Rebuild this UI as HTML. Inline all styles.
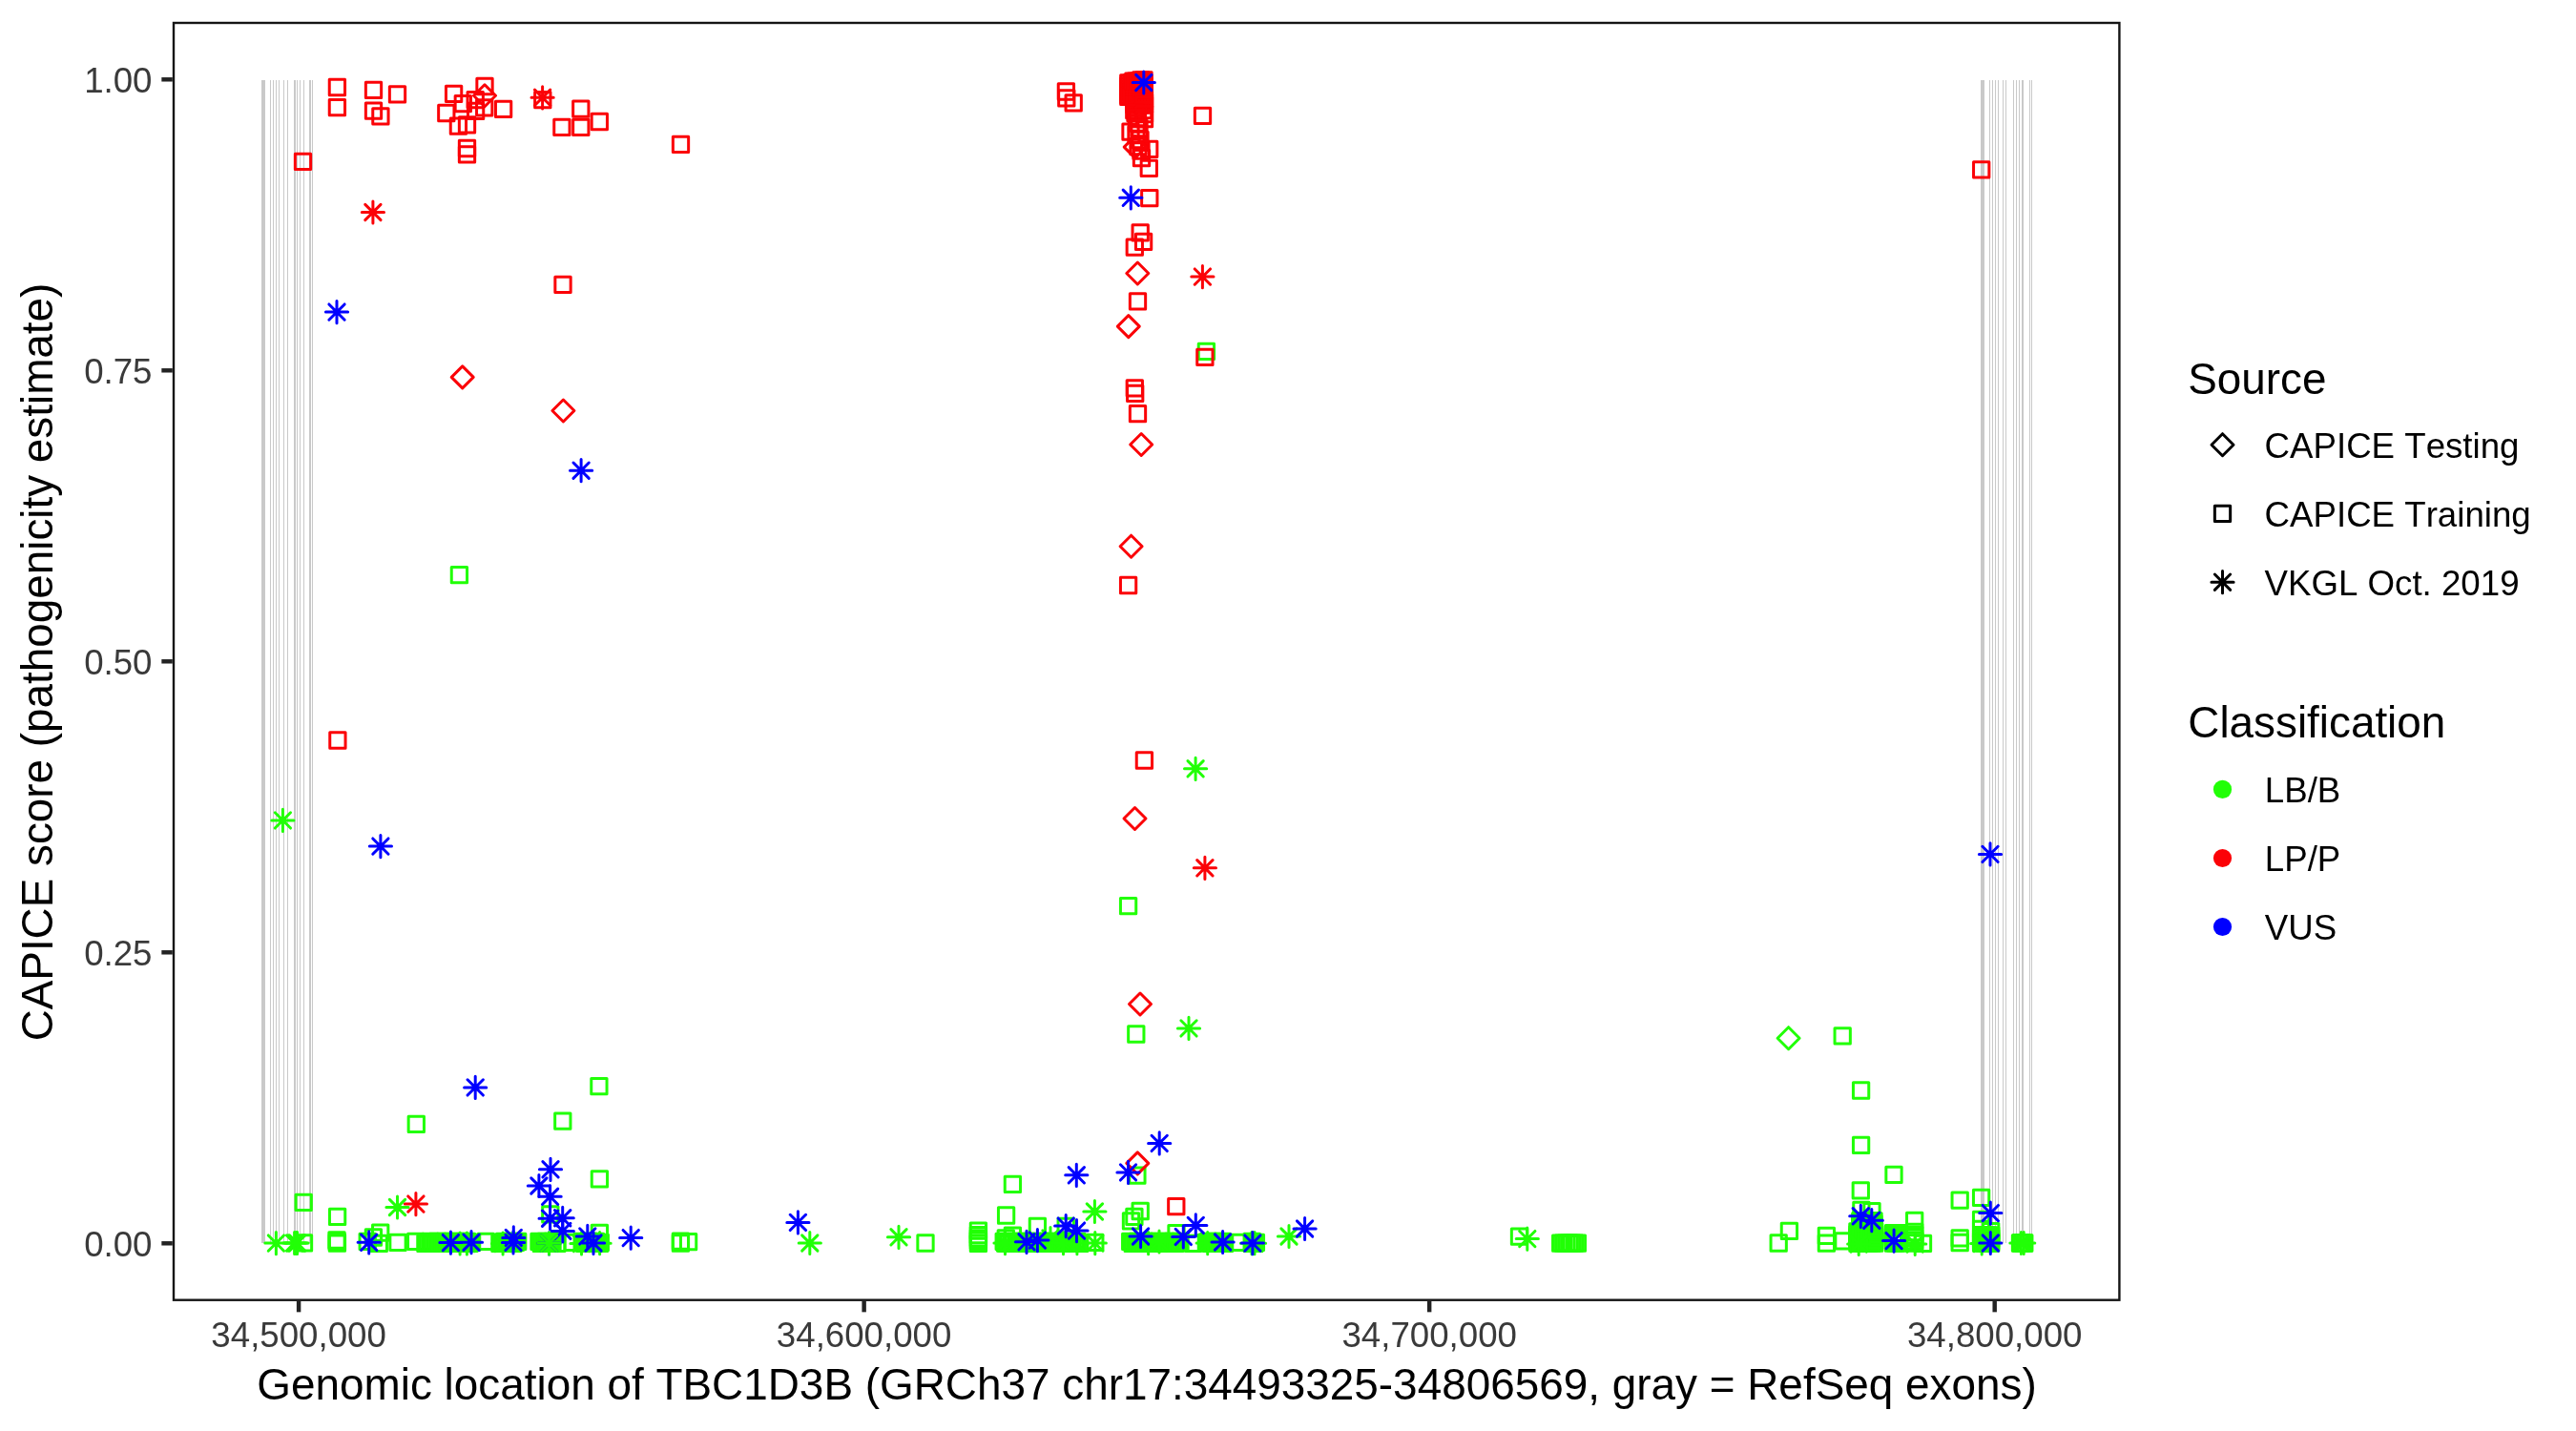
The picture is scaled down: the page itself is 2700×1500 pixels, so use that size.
<!DOCTYPE html>
<html><head><meta charset="utf-8"><title>plot</title>
<style>
html,body{margin:0;padding:0;background:#fff}
svg{display:block;will-change:transform}
text{font-family:"Liberation Sans",sans-serif;font-kerning:none;font-variant-ligatures:none;font-feature-settings:"kern" 0,"liga" 0}
.t{font-size:36.67px;fill:#3A3A3A}
.T{font-size:45.83px;fill:#000}
.l{font-size:36.67px;fill:#000}
.p{fill:none;stroke-width:3;stroke-linejoin:round;stroke-linecap:round}
</style></head><body>
<svg width="2700" height="1500" viewBox="0 0 2700 1500">
<defs>
<rect id="s" x="-8.15" y="-8.15" width="16.3" height="16.3"/>
<path id="d" d="M0-11.5L11.5 0 0 11.5-11.5 0Z"/>
<path id="a" d="M-11.6 0H11.6M0-11.6V11.6M-8.15-8.15L8.15 8.15M-8.15 8.15L8.15-8.15"/>
</defs>
<rect width="2700" height="1500" fill="#fff"/>

<g fill="#C9C9C9" shape-rendering="crispEdges">
<rect x="274" y="84" width="4" height="1219"/>
<rect x="283" y="84" width="1" height="1219"/>
<rect x="286" y="84" width="1" height="1219"/>
<rect x="289" y="84" width="1" height="1219"/>
<rect x="292" y="84" width="1" height="1219"/>
<rect x="297" y="84" width="1" height="1219"/>
<rect x="301" y="84" width="1" height="1219"/>
<rect x="308" y="84" width="2" height="1219"/>
<rect x="311" y="84" width="1" height="1219"/>
<rect x="314" y="84" width="1" height="1219"/>
<rect x="318" y="84" width="1" height="1219"/>
<rect x="324" y="84" width="2" height="1219"/>
<rect x="327" y="84" width="1" height="1219"/>
<rect x="2076" y="84" width="4" height="1219"/>
<rect x="2085" y="84" width="1" height="1219"/>
<rect x="2088" y="84" width="1" height="1219"/>
<rect x="2091" y="84" width="1" height="1219"/>
<rect x="2094" y="84" width="1" height="1219"/>
<rect x="2099" y="84" width="1" height="1219"/>
<rect x="2102" y="84" width="1" height="1219"/>
<rect x="2110" y="84" width="1" height="1219"/>
<rect x="2113" y="84" width="1" height="1219"/>
<rect x="2116" y="84" width="1" height="1219"/>
<rect x="2119" y="84" width="2" height="1219"/>
<rect x="2127" y="84" width="1" height="1219"/>
<rect x="2129" y="84" width="1" height="1219"/>
</g>
<g class="p">
<use href="#s" x="1264.4" y="368.3" stroke="#21FF06"/>
<use href="#s" x="481.4" y="602.6" stroke="#21FF06"/>
<use href="#s" x="627.9" y="1138.6" stroke="#21FF06"/>
<use href="#s" x="436.3" y="1178.4" stroke="#21FF06"/>
<use href="#s" x="589.8" y="1175.2" stroke="#21FF06"/>
<use href="#s" x="628.4" y="1235.8" stroke="#21FF06"/>
<use href="#s" x="318.2" y="1260.3" stroke="#21FF06"/>
<use href="#s" x="353.6" y="1275.4" stroke="#21FF06"/>
<use href="#s" x="576.8" y="1272.8" stroke="#21FF06"/>
<use href="#s" x="398.7" y="1292.2" stroke="#21FF06"/>
<use href="#s" x="391.4" y="1297.0" stroke="#21FF06"/>
<use href="#s" x="628.4" y="1292.5" stroke="#21FF06"/>
<use href="#s" x="318.5" y="1302.8" stroke="#21FF06"/>
<use href="#s" x="353.0" y="1300.0" stroke="#21FF06"/>
<use href="#s" x="353.4" y="1301.8" stroke="#21FF06"/>
<use href="#s" x="353.4" y="1303.2" stroke="#21FF06"/>
<use href="#s" x="385.2" y="1301.3" stroke="#21FF06"/>
<use href="#s" x="397.3" y="1303.3" stroke="#21FF06"/>
<use href="#s" x="417.0" y="1302.3" stroke="#21FF06"/>
<use href="#s" x="435.7" y="1301.3" stroke="#21FF06"/>
<use href="#s" x="445.9" y="1303.3" stroke="#21FF06"/>
<use href="#s" x="448.5" y="1302.3" stroke="#21FF06"/>
<use href="#s" x="451.0" y="1301.3" stroke="#21FF06"/>
<use href="#s" x="453.6" y="1303.3" stroke="#21FF06"/>
<use href="#s" x="456.2" y="1302.3" stroke="#21FF06"/>
<use href="#s" x="458.7" y="1301.3" stroke="#21FF06"/>
<use href="#s" x="461.3" y="1303.3" stroke="#21FF06"/>
<use href="#s" x="463.8" y="1302.3" stroke="#21FF06"/>
<use href="#s" x="466.4" y="1301.3" stroke="#21FF06"/>
<use href="#s" x="469.0" y="1303.3" stroke="#21FF06"/>
<use href="#s" x="471.5" y="1302.3" stroke="#21FF06"/>
<use href="#s" x="474.1" y="1301.3" stroke="#21FF06"/>
<use href="#s" x="476.7" y="1303.3" stroke="#21FF06"/>
<use href="#s" x="479.2" y="1302.3" stroke="#21FF06"/>
<use href="#s" x="481.8" y="1301.3" stroke="#21FF06"/>
<use href="#s" x="484.3" y="1303.3" stroke="#21FF06"/>
<use href="#s" x="486.9" y="1302.3" stroke="#21FF06"/>
<use href="#s" x="489.5" y="1301.3" stroke="#21FF06"/>
<use href="#s" x="492.0" y="1303.3" stroke="#21FF06"/>
<use href="#s" x="494.6" y="1302.3" stroke="#21FF06"/>
<use href="#s" x="509.2" y="1301.3" stroke="#21FF06"/>
<use href="#s" x="523.9" y="1303.3" stroke="#21FF06"/>
<use href="#s" x="526.2" y="1302.3" stroke="#21FF06"/>
<use href="#s" x="528.6" y="1301.3" stroke="#21FF06"/>
<use href="#s" x="531.0" y="1303.3" stroke="#21FF06"/>
<use href="#s" x="533.3" y="1302.3" stroke="#21FF06"/>
<use href="#s" x="535.6" y="1301.3" stroke="#21FF06"/>
<use href="#s" x="538.0" y="1303.3" stroke="#21FF06"/>
<use href="#s" x="540.4" y="1302.3" stroke="#21FF06"/>
<use href="#s" x="542.7" y="1301.3" stroke="#21FF06"/>
<use href="#s" x="565.0" y="1301.3" stroke="#21FF06"/>
<use href="#s" x="567.3" y="1303.3" stroke="#21FF06"/>
<use href="#s" x="569.7" y="1302.3" stroke="#21FF06"/>
<use href="#s" x="572.0" y="1301.3" stroke="#21FF06"/>
<use href="#s" x="574.3" y="1303.3" stroke="#21FF06"/>
<use href="#s" x="576.7" y="1302.3" stroke="#21FF06"/>
<use href="#s" x="579.0" y="1301.3" stroke="#21FF06"/>
<use href="#s" x="583.9" y="1303.3" stroke="#21FF06"/>
<use href="#s" x="600.1" y="1302.3" stroke="#21FF06"/>
<use href="#s" x="610.2" y="1301.3" stroke="#21FF06"/>
<use href="#s" x="612.6" y="1303.3" stroke="#21FF06"/>
<use href="#s" x="615.0" y="1302.3" stroke="#21FF06"/>
<use href="#s" x="617.4" y="1301.3" stroke="#21FF06"/>
<use href="#s" x="619.8" y="1303.3" stroke="#21FF06"/>
<use href="#s" x="622.1" y="1302.3" stroke="#21FF06"/>
<use href="#s" x="624.5" y="1301.3" stroke="#21FF06"/>
<use href="#s" x="626.9" y="1303.3" stroke="#21FF06"/>
<use href="#s" x="629.3" y="1302.3" stroke="#21FF06"/>
<use href="#s" x="713.4" y="1301.2" stroke="#21FF06"/>
<use href="#s" x="713.4" y="1303.0" stroke="#21FF06"/>
<use href="#s" x="721.6" y="1301.6" stroke="#21FF06"/>
<use href="#s" x="970.0" y="1303.0" stroke="#21FF06"/>
<use href="#s" x="1025.4" y="1290.1" stroke="#21FF06"/>
<use href="#s" x="1025.4" y="1294.7" stroke="#21FF06"/>
<use href="#s" x="1025.4" y="1297.9" stroke="#21FF06"/>
<use href="#s" x="1025.4" y="1300.4" stroke="#21FF06"/>
<use href="#s" x="1025.4" y="1303.4" stroke="#21FF06"/>
<use href="#s" x="1061.4" y="1241.4" stroke="#21FF06"/>
<use href="#s" x="1054.6" y="1274.0" stroke="#21FF06"/>
<use href="#s" x="1087.4" y="1285.5" stroke="#21FF06"/>
<use href="#s" x="1117.2" y="1285.5" stroke="#21FF06"/>
<use href="#s" x="1195.2" y="1269.5" stroke="#21FF06"/>
<use href="#s" x="1188.9" y="1275.4" stroke="#21FF06"/>
<use href="#s" x="1185.5" y="1279.8" stroke="#21FF06"/>
<use href="#s" x="1191.9" y="1232.2" stroke="#21FF06"/>
<use href="#s" x="1061.4" y="1295.1" stroke="#21FF06"/>
<use href="#s" x="1054.3" y="1298.0" stroke="#21FF06"/>
<use href="#s" x="1052.2" y="1301.3" stroke="#21FF06"/>
<use href="#s" x="1054.8" y="1303.3" stroke="#21FF06"/>
<use href="#s" x="1057.3" y="1302.3" stroke="#21FF06"/>
<use href="#s" x="1059.9" y="1301.3" stroke="#21FF06"/>
<use href="#s" x="1062.4" y="1303.3" stroke="#21FF06"/>
<use href="#s" x="1065.0" y="1302.3" stroke="#21FF06"/>
<use href="#s" x="1067.6" y="1301.3" stroke="#21FF06"/>
<use href="#s" x="1070.1" y="1303.3" stroke="#21FF06"/>
<use href="#s" x="1072.7" y="1302.3" stroke="#21FF06"/>
<use href="#s" x="1075.3" y="1301.3" stroke="#21FF06"/>
<use href="#s" x="1077.8" y="1303.3" stroke="#21FF06"/>
<use href="#s" x="1080.4" y="1302.3" stroke="#21FF06"/>
<use href="#s" x="1082.9" y="1301.3" stroke="#21FF06"/>
<use href="#s" x="1085.5" y="1303.3" stroke="#21FF06"/>
<use href="#s" x="1088.1" y="1302.3" stroke="#21FF06"/>
<use href="#s" x="1090.6" y="1301.3" stroke="#21FF06"/>
<use href="#s" x="1093.2" y="1303.3" stroke="#21FF06"/>
<use href="#s" x="1095.7" y="1302.3" stroke="#21FF06"/>
<use href="#s" x="1098.3" y="1301.3" stroke="#21FF06"/>
<use href="#s" x="1100.9" y="1303.3" stroke="#21FF06"/>
<use href="#s" x="1103.4" y="1302.3" stroke="#21FF06"/>
<use href="#s" x="1106.0" y="1301.3" stroke="#21FF06"/>
<use href="#s" x="1108.5" y="1303.3" stroke="#21FF06"/>
<use href="#s" x="1111.1" y="1302.3" stroke="#21FF06"/>
<use href="#s" x="1113.7" y="1301.3" stroke="#21FF06"/>
<use href="#s" x="1116.2" y="1303.3" stroke="#21FF06"/>
<use href="#s" x="1118.8" y="1302.3" stroke="#21FF06"/>
<use href="#s" x="1121.4" y="1301.3" stroke="#21FF06"/>
<use href="#s" x="1123.9" y="1303.3" stroke="#21FF06"/>
<use href="#s" x="1126.5" y="1302.3" stroke="#21FF06"/>
<use href="#s" x="1129.0" y="1301.3" stroke="#21FF06"/>
<use href="#s" x="1131.6" y="1303.3" stroke="#21FF06"/>
<use href="#s" x="1147.8" y="1302.3" stroke="#21FF06"/>
<use href="#s" x="1184.7" y="1301.3" stroke="#21FF06"/>
<use href="#s" x="1187.2" y="1303.3" stroke="#21FF06"/>
<use href="#s" x="1189.7" y="1302.3" stroke="#21FF06"/>
<use href="#s" x="1192.2" y="1301.3" stroke="#21FF06"/>
<use href="#s" x="1194.7" y="1303.3" stroke="#21FF06"/>
<use href="#s" x="1197.2" y="1302.3" stroke="#21FF06"/>
<use href="#s" x="1199.6" y="1301.3" stroke="#21FF06"/>
<use href="#s" x="1202.1" y="1303.3" stroke="#21FF06"/>
<use href="#s" x="1204.6" y="1302.3" stroke="#21FF06"/>
<use href="#s" x="1207.1" y="1301.3" stroke="#21FF06"/>
<use href="#s" x="1209.6" y="1303.3" stroke="#21FF06"/>
<use href="#s" x="1212.1" y="1302.3" stroke="#21FF06"/>
<use href="#s" x="1214.6" y="1301.3" stroke="#21FF06"/>
<use href="#s" x="1217.1" y="1303.3" stroke="#21FF06"/>
<use href="#s" x="1219.6" y="1302.3" stroke="#21FF06"/>
<use href="#s" x="1222.1" y="1301.3" stroke="#21FF06"/>
<use href="#s" x="1224.5" y="1303.3" stroke="#21FF06"/>
<use href="#s" x="1227.0" y="1302.3" stroke="#21FF06"/>
<use href="#s" x="1229.5" y="1301.3" stroke="#21FF06"/>
<use href="#s" x="1232.0" y="1303.3" stroke="#21FF06"/>
<use href="#s" x="1234.5" y="1302.3" stroke="#21FF06"/>
<use href="#s" x="1237.0" y="1301.3" stroke="#21FF06"/>
<use href="#s" x="1250.6" y="1303.3" stroke="#21FF06"/>
<use href="#s" x="1264.4" y="1302.3" stroke="#21FF06"/>
<use href="#s" x="1266.8" y="1301.3" stroke="#21FF06"/>
<use href="#s" x="1269.2" y="1303.3" stroke="#21FF06"/>
<use href="#s" x="1271.6" y="1302.3" stroke="#21FF06"/>
<use href="#s" x="1274.0" y="1301.3" stroke="#21FF06"/>
<use href="#s" x="1276.4" y="1303.3" stroke="#21FF06"/>
<use href="#s" x="1278.8" y="1302.3" stroke="#21FF06"/>
<use href="#s" x="1281.2" y="1301.3" stroke="#21FF06"/>
<use href="#s" x="1283.6" y="1303.3" stroke="#21FF06"/>
<use href="#s" x="1298.0" y="1302.3" stroke="#21FF06"/>
<use href="#s" x="1312.2" y="1301.3" stroke="#21FF06"/>
<use href="#s" x="1314.3" y="1303.3" stroke="#21FF06"/>
<use href="#s" x="1316.4" y="1302.3" stroke="#21FF06"/>
<use href="#s" x="1233.0" y="1292.6" stroke="#21FF06"/>
<use href="#s" x="1592.5" y="1296.2" stroke="#21FF06"/>
<use href="#s" x="1635.7" y="1303.1" stroke="#21FF06"/>
<use href="#s" x="1638.7" y="1303.1" stroke="#21FF06"/>
<use href="#s" x="1641.7" y="1303.1" stroke="#21FF06"/>
<use href="#s" x="1644.7" y="1303.1" stroke="#21FF06"/>
<use href="#s" x="1647.4" y="1303.1" stroke="#21FF06"/>
<use href="#s" x="1650.4" y="1303.1" stroke="#21FF06"/>
<use href="#s" x="1653.4" y="1303.1" stroke="#21FF06"/>
<use href="#s" x="1182.6" y="949.6" stroke="#21FF06"/>
<use href="#s" x="1190.8" y="1084.0" stroke="#21FF06"/>
<use href="#d" x="1874.6" y="1088.2" stroke="#21FF06"/>
<use href="#s" x="1931.2" y="1085.8" stroke="#21FF06"/>
<use href="#s" x="1950.6" y="1143.0" stroke="#21FF06"/>
<use href="#s" x="1950.6" y="1200.3" stroke="#21FF06"/>
<use href="#s" x="1985.0" y="1231.4" stroke="#21FF06"/>
<use href="#s" x="1950.3" y="1247.9" stroke="#21FF06"/>
<use href="#s" x="1950.9" y="1268.5" stroke="#21FF06"/>
<use href="#s" x="1962.0" y="1269.7" stroke="#21FF06"/>
<use href="#s" x="2006.7" y="1279.4" stroke="#21FF06"/>
<use href="#s" x="1875.4" y="1290.3" stroke="#21FF06"/>
<use href="#s" x="1864.2" y="1303.0" stroke="#21FF06"/>
<use href="#s" x="1914.4" y="1295.4" stroke="#21FF06"/>
<use href="#s" x="1914.4" y="1303.1" stroke="#21FF06"/>
<use href="#s" x="1932.0" y="1300.9" stroke="#21FF06"/>
<use href="#s" x="2015.5" y="1303.3" stroke="#21FF06"/>
<use href="#s" x="2054.2" y="1258.1" stroke="#21FF06"/>
<use href="#s" x="2054.2" y="1297.9" stroke="#21FF06"/>
<use href="#s" x="2054.2" y="1302.5" stroke="#21FF06"/>
<use href="#s" x="2076.6" y="1255.3" stroke="#21FF06"/>
<use href="#s" x="2076.6" y="1278.4" stroke="#21FF06"/>
<use href="#s" x="2076.6" y="1288.5" stroke="#21FF06"/>
<use href="#s" x="2086.7" y="1290.6" stroke="#21FF06"/>
<use href="#s" x="1946.9" y="1291.0" stroke="#21FF06"/>
<use href="#s" x="1946.9" y="1294.0" stroke="#21FF06"/>
<use href="#s" x="1946.9" y="1297.0" stroke="#21FF06"/>
<use href="#s" x="1946.9" y="1300.0" stroke="#21FF06"/>
<use href="#s" x="1946.9" y="1303.0" stroke="#21FF06"/>
<use href="#s" x="1950.0" y="1291.0" stroke="#21FF06"/>
<use href="#s" x="1950.0" y="1294.0" stroke="#21FF06"/>
<use href="#s" x="1950.0" y="1297.0" stroke="#21FF06"/>
<use href="#s" x="1950.0" y="1300.0" stroke="#21FF06"/>
<use href="#s" x="1950.0" y="1303.0" stroke="#21FF06"/>
<use href="#s" x="1953.0" y="1291.0" stroke="#21FF06"/>
<use href="#s" x="1953.0" y="1294.0" stroke="#21FF06"/>
<use href="#s" x="1953.0" y="1297.0" stroke="#21FF06"/>
<use href="#s" x="1953.0" y="1300.0" stroke="#21FF06"/>
<use href="#s" x="1953.0" y="1303.0" stroke="#21FF06"/>
<use href="#s" x="1956.0" y="1291.0" stroke="#21FF06"/>
<use href="#s" x="1956.0" y="1294.0" stroke="#21FF06"/>
<use href="#s" x="1956.0" y="1297.0" stroke="#21FF06"/>
<use href="#s" x="1956.0" y="1300.0" stroke="#21FF06"/>
<use href="#s" x="1956.0" y="1303.0" stroke="#21FF06"/>
<use href="#s" x="1959.0" y="1291.0" stroke="#21FF06"/>
<use href="#s" x="1959.0" y="1294.0" stroke="#21FF06"/>
<use href="#s" x="1959.0" y="1297.0" stroke="#21FF06"/>
<use href="#s" x="1959.0" y="1300.0" stroke="#21FF06"/>
<use href="#s" x="1959.0" y="1303.0" stroke="#21FF06"/>
<use href="#s" x="1962.0" y="1291.0" stroke="#21FF06"/>
<use href="#s" x="1962.0" y="1294.0" stroke="#21FF06"/>
<use href="#s" x="1962.0" y="1297.0" stroke="#21FF06"/>
<use href="#s" x="1962.0" y="1300.0" stroke="#21FF06"/>
<use href="#s" x="1962.0" y="1303.0" stroke="#21FF06"/>
<use href="#s" x="1964.7" y="1291.0" stroke="#21FF06"/>
<use href="#s" x="1964.7" y="1294.0" stroke="#21FF06"/>
<use href="#s" x="1964.7" y="1297.0" stroke="#21FF06"/>
<use href="#s" x="1964.7" y="1300.0" stroke="#21FF06"/>
<use href="#s" x="1964.7" y="1303.0" stroke="#21FF06"/>
<use href="#s" x="1949.8" y="1279.8" stroke="#21FF06"/>
<use href="#s" x="1949.8" y="1283.0" stroke="#21FF06"/>
<use href="#s" x="1949.8" y="1286.0" stroke="#21FF06"/>
<use href="#s" x="1949.8" y="1289.0" stroke="#21FF06"/>
<use href="#s" x="1953.0" y="1279.8" stroke="#21FF06"/>
<use href="#s" x="1953.0" y="1283.0" stroke="#21FF06"/>
<use href="#s" x="1953.0" y="1286.0" stroke="#21FF06"/>
<use href="#s" x="1953.0" y="1289.0" stroke="#21FF06"/>
<use href="#s" x="1956.0" y="1279.8" stroke="#21FF06"/>
<use href="#s" x="1956.0" y="1283.0" stroke="#21FF06"/>
<use href="#s" x="1956.0" y="1286.0" stroke="#21FF06"/>
<use href="#s" x="1956.0" y="1289.0" stroke="#21FF06"/>
<use href="#s" x="1959.0" y="1279.8" stroke="#21FF06"/>
<use href="#s" x="1959.0" y="1283.0" stroke="#21FF06"/>
<use href="#s" x="1959.0" y="1286.0" stroke="#21FF06"/>
<use href="#s" x="1959.0" y="1289.0" stroke="#21FF06"/>
<use href="#s" x="1962.0" y="1279.8" stroke="#21FF06"/>
<use href="#s" x="1962.0" y="1283.0" stroke="#21FF06"/>
<use href="#s" x="1962.0" y="1286.0" stroke="#21FF06"/>
<use href="#s" x="1962.0" y="1289.0" stroke="#21FF06"/>
<use href="#s" x="1964.0" y="1279.8" stroke="#21FF06"/>
<use href="#s" x="1964.0" y="1283.0" stroke="#21FF06"/>
<use href="#s" x="1964.0" y="1286.0" stroke="#21FF06"/>
<use href="#s" x="1964.0" y="1289.0" stroke="#21FF06"/>
<use href="#s" x="1984.5" y="1292.6" stroke="#21FF06"/>
<use href="#s" x="1984.5" y="1295.5" stroke="#21FF06"/>
<use href="#s" x="1984.5" y="1298.5" stroke="#21FF06"/>
<use href="#s" x="1984.5" y="1301.0" stroke="#21FF06"/>
<use href="#s" x="1984.5" y="1303.0" stroke="#21FF06"/>
<use href="#s" x="1987.0" y="1292.6" stroke="#21FF06"/>
<use href="#s" x="1987.0" y="1295.5" stroke="#21FF06"/>
<use href="#s" x="1987.0" y="1298.5" stroke="#21FF06"/>
<use href="#s" x="1987.0" y="1301.0" stroke="#21FF06"/>
<use href="#s" x="1987.0" y="1303.0" stroke="#21FF06"/>
<use href="#s" x="1989.8" y="1292.6" stroke="#21FF06"/>
<use href="#s" x="1989.8" y="1295.5" stroke="#21FF06"/>
<use href="#s" x="1989.8" y="1298.5" stroke="#21FF06"/>
<use href="#s" x="1989.8" y="1301.0" stroke="#21FF06"/>
<use href="#s" x="1989.8" y="1303.0" stroke="#21FF06"/>
<use href="#s" x="2006.7" y="1291.5" stroke="#21FF06"/>
<use href="#s" x="2006.7" y="1294.5" stroke="#21FF06"/>
<use href="#s" x="2006.7" y="1297.5" stroke="#21FF06"/>
<use href="#s" x="2006.7" y="1300.5" stroke="#21FF06"/>
<use href="#s" x="2006.7" y="1303.0" stroke="#21FF06"/>
<use href="#s" x="2076.6" y="1295.0" stroke="#21FF06"/>
<use href="#s" x="2076.6" y="1298.0" stroke="#21FF06"/>
<use href="#s" x="2076.6" y="1301.0" stroke="#21FF06"/>
<use href="#s" x="2076.6" y="1303.2" stroke="#21FF06"/>
<use href="#s" x="2080.0" y="1295.0" stroke="#21FF06"/>
<use href="#s" x="2080.0" y="1298.0" stroke="#21FF06"/>
<use href="#s" x="2080.0" y="1301.0" stroke="#21FF06"/>
<use href="#s" x="2080.0" y="1303.2" stroke="#21FF06"/>
<use href="#s" x="2083.5" y="1295.0" stroke="#21FF06"/>
<use href="#s" x="2083.5" y="1298.0" stroke="#21FF06"/>
<use href="#s" x="2083.5" y="1301.0" stroke="#21FF06"/>
<use href="#s" x="2083.5" y="1303.2" stroke="#21FF06"/>
<use href="#s" x="2086.7" y="1295.0" stroke="#21FF06"/>
<use href="#s" x="2086.7" y="1298.0" stroke="#21FF06"/>
<use href="#s" x="2086.7" y="1301.0" stroke="#21FF06"/>
<use href="#s" x="2086.7" y="1303.2" stroke="#21FF06"/>
<use href="#s" x="2117.5" y="1303.0" stroke="#21FF06"/>
<use href="#s" x="2119.5" y="1303.0" stroke="#21FF06"/>
<use href="#s" x="2121.8" y="1303.0" stroke="#21FF06"/>
<use href="#s" x="317.5" y="169.4" stroke="#FB0207"/>
<use href="#s" x="353.4" y="91.5" stroke="#FB0207"/>
<use href="#s" x="353.4" y="112.6" stroke="#FB0207"/>
<use href="#s" x="391.5" y="94.3" stroke="#FB0207"/>
<use href="#s" x="391.5" y="116.2" stroke="#FB0207"/>
<use href="#s" x="398.9" y="121.9" stroke="#FB0207"/>
<use href="#s" x="416.5" y="98.9" stroke="#FB0207"/>
<use href="#s" x="475.6" y="98.4" stroke="#FB0207"/>
<use href="#s" x="467.8" y="118.5" stroke="#FB0207"/>
<use href="#s" x="508.0" y="90.5" stroke="#FB0207"/>
<use href="#s" x="527.6" y="114.3" stroke="#FB0207"/>
<use href="#s" x="485.3" y="108.7" stroke="#FB0207"/>
<use href="#s" x="498.2" y="104.7" stroke="#FB0207"/>
<use href="#s" x="498.6" y="116.4" stroke="#FB0207"/>
<use href="#s" x="507.7" y="112.9" stroke="#FB0207"/>
<use href="#s" x="480.4" y="132.2" stroke="#FB0207"/>
<use href="#s" x="489.5" y="130.8" stroke="#FB0207"/>
<use href="#s" x="489.5" y="155.5" stroke="#FB0207"/>
<use href="#s" x="489.5" y="161.8" stroke="#FB0207"/>
<use href="#s" x="568.8" y="104.7" stroke="#FB0207"/>
<use href="#s" x="608.8" y="114.2" stroke="#FB0207"/>
<use href="#s" x="588.9" y="133.3" stroke="#FB0207"/>
<use href="#s" x="608.8" y="133.3" stroke="#FB0207"/>
<use href="#s" x="628.3" y="127.5" stroke="#FB0207"/>
<use href="#s" x="713.5" y="151.4" stroke="#FB0207"/>
<use href="#s" x="590.0" y="298.3" stroke="#FB0207"/>
<use href="#s" x="353.9" y="776.0" stroke="#FB0207"/>
<use href="#d" x="508.0" y="100.3" stroke="#FB0207"/>
<use href="#d" x="484.7" y="395.4" stroke="#FB0207"/>
<use href="#d" x="590.4" y="430.5" stroke="#FB0207"/>
<use href="#d" x="1192.3" y="1219.4" stroke="#FB0207"/>
<use href="#s" x="1232.8" y="1264.7" stroke="#FB0207"/>
<use href="#s" x="1117.4" y="96.0" stroke="#FB0207"/>
<use href="#s" x="1117.8" y="102.9" stroke="#FB0207"/>
<use href="#s" x="1125.2" y="107.8" stroke="#FB0207"/>
<use href="#s" x="1260.5" y="121.3" stroke="#FB0207"/>
<use href="#s" x="1182.8" y="86.8" stroke="#FB0207"/>
<use href="#s" x="1182.8" y="90.0" stroke="#FB0207"/>
<use href="#s" x="1182.8" y="93.2" stroke="#FB0207"/>
<use href="#s" x="1182.8" y="96.4" stroke="#FB0207"/>
<use href="#s" x="1182.8" y="99.6" stroke="#FB0207"/>
<use href="#s" x="1182.8" y="101.4" stroke="#FB0207"/>
<use href="#s" x="1186.0" y="86.8" stroke="#FB0207"/>
<use href="#s" x="1186.0" y="90.0" stroke="#FB0207"/>
<use href="#s" x="1186.0" y="93.2" stroke="#FB0207"/>
<use href="#s" x="1186.0" y="96.4" stroke="#FB0207"/>
<use href="#s" x="1186.0" y="99.6" stroke="#FB0207"/>
<use href="#s" x="1186.0" y="101.4" stroke="#FB0207"/>
<use href="#s" x="1189.3" y="86.8" stroke="#FB0207"/>
<use href="#s" x="1189.3" y="90.0" stroke="#FB0207"/>
<use href="#s" x="1189.3" y="93.2" stroke="#FB0207"/>
<use href="#s" x="1189.3" y="96.4" stroke="#FB0207"/>
<use href="#s" x="1189.3" y="99.6" stroke="#FB0207"/>
<use href="#s" x="1189.3" y="101.4" stroke="#FB0207"/>
<use href="#s" x="1192.5" y="86.8" stroke="#FB0207"/>
<use href="#s" x="1192.5" y="90.0" stroke="#FB0207"/>
<use href="#s" x="1192.5" y="93.2" stroke="#FB0207"/>
<use href="#s" x="1192.5" y="96.4" stroke="#FB0207"/>
<use href="#s" x="1192.5" y="99.6" stroke="#FB0207"/>
<use href="#s" x="1192.5" y="101.4" stroke="#FB0207"/>
<use href="#s" x="1195.8" y="86.8" stroke="#FB0207"/>
<use href="#s" x="1195.8" y="90.0" stroke="#FB0207"/>
<use href="#s" x="1195.8" y="93.2" stroke="#FB0207"/>
<use href="#s" x="1195.8" y="96.4" stroke="#FB0207"/>
<use href="#s" x="1195.8" y="99.6" stroke="#FB0207"/>
<use href="#s" x="1195.8" y="101.4" stroke="#FB0207"/>
<use href="#s" x="1199.0" y="86.8" stroke="#FB0207"/>
<use href="#s" x="1199.0" y="90.0" stroke="#FB0207"/>
<use href="#s" x="1199.0" y="93.2" stroke="#FB0207"/>
<use href="#s" x="1199.0" y="96.4" stroke="#FB0207"/>
<use href="#s" x="1199.0" y="99.6" stroke="#FB0207"/>
<use href="#s" x="1199.0" y="101.4" stroke="#FB0207"/>
<use href="#s" x="1195.8" y="83.9" stroke="#FB0207"/>
<use href="#s" x="1199.0" y="83.9" stroke="#FB0207"/>
<use href="#s" x="1187.9" y="85.2" stroke="#FB0207"/>
<use href="#s" x="1190.5" y="85.2" stroke="#FB0207"/>
<use href="#s" x="1193.0" y="85.2" stroke="#FB0207"/>
<use href="#s" x="1189.0" y="104.0" stroke="#FB0207"/>
<use href="#s" x="1189.0" y="107.1" stroke="#FB0207"/>
<use href="#s" x="1189.0" y="109.9" stroke="#FB0207"/>
<use href="#s" x="1192.0" y="104.0" stroke="#FB0207"/>
<use href="#s" x="1192.0" y="107.1" stroke="#FB0207"/>
<use href="#s" x="1192.0" y="109.9" stroke="#FB0207"/>
<use href="#s" x="1195.0" y="104.0" stroke="#FB0207"/>
<use href="#s" x="1195.0" y="107.1" stroke="#FB0207"/>
<use href="#s" x="1195.0" y="109.9" stroke="#FB0207"/>
<use href="#s" x="1197.5" y="104.0" stroke="#FB0207"/>
<use href="#s" x="1197.5" y="107.1" stroke="#FB0207"/>
<use href="#s" x="1197.5" y="109.9" stroke="#FB0207"/>
<use href="#s" x="1199.5" y="104.0" stroke="#FB0207"/>
<use href="#s" x="1199.5" y="107.1" stroke="#FB0207"/>
<use href="#s" x="1199.5" y="109.9" stroke="#FB0207"/>
<use href="#s" x="1188.8" y="115.6" stroke="#FB0207"/>
<use href="#s" x="1192.4" y="115.6" stroke="#FB0207"/>
<use href="#s" x="1198.6" y="115.6" stroke="#FB0207"/>
<use href="#s" x="1190.0" y="118.5" stroke="#FB0207"/>
<use href="#s" x="1199.5" y="119.5" stroke="#FB0207"/>
<use href="#s" x="1191.5" y="123.5" stroke="#FB0207"/>
<use href="#s" x="1199.5" y="124.7" stroke="#FB0207"/>
<use href="#s" x="1185.0" y="138.1" stroke="#FB0207"/>
<use href="#s" x="1191.5" y="129.0" stroke="#FB0207"/>
<use href="#s" x="1194.0" y="134.5" stroke="#FB0207"/>
<use href="#s" x="1191.0" y="141.0" stroke="#FB0207"/>
<use href="#s" x="1195.0" y="146.5" stroke="#FB0207"/>
<use href="#s" x="1193.0" y="153.5" stroke="#FB0207"/>
<use href="#s" x="1196.0" y="158.0" stroke="#FB0207"/>
<use href="#s" x="1204.7" y="156.3" stroke="#FB0207"/>
<use href="#s" x="1196.5" y="165.6" stroke="#FB0207"/>
<use href="#s" x="1204.3" y="176.4" stroke="#FB0207"/>
<use href="#s" x="1204.8" y="207.7" stroke="#FB0207"/>
<use href="#s" x="1195.2" y="243.9" stroke="#FB0207"/>
<use href="#s" x="1198.6" y="253.4" stroke="#FB0207"/>
<use href="#s" x="1189.3" y="259.2" stroke="#FB0207"/>
<use href="#s" x="1192.5" y="315.8" stroke="#FB0207"/>
<use href="#s" x="1262.9" y="374.3" stroke="#FB0207"/>
<use href="#s" x="1189.3" y="406.8" stroke="#FB0207"/>
<use href="#s" x="1189.7" y="412.3" stroke="#FB0207"/>
<use href="#s" x="1192.5" y="433.7" stroke="#FB0207"/>
<use href="#s" x="1182.6" y="613.5" stroke="#FB0207"/>
<use href="#s" x="1199.4" y="797.0" stroke="#FB0207"/>
<use href="#d" x="1189.7" y="154.1" stroke="#FB0207"/>
<use href="#d" x="1192.3" y="286.5" stroke="#FB0207"/>
<use href="#d" x="1182.8" y="342.1" stroke="#FB0207"/>
<use href="#d" x="1196.2" y="466.0" stroke="#FB0207"/>
<use href="#d" x="1185.6" y="572.7" stroke="#FB0207"/>
<use href="#d" x="1189.5" y="858.0" stroke="#FB0207"/>
<use href="#d" x="1195.0" y="1052.5" stroke="#FB0207"/>
<use href="#s" x="2076.7" y="177.9" stroke="#FB0207"/>
<use href="#a" x="296.4" y="859.9" stroke="#21FF06"/>
<use href="#a" x="416.5" y="1265.5" stroke="#21FF06"/>
<use href="#a" x="289.4" y="1303.1" stroke="#21FF06"/>
<use href="#a" x="308.6" y="1303.0" stroke="#21FF06"/>
<use href="#a" x="310.3" y="1303.0" stroke="#21FF06"/>
<use href="#a" x="311.6" y="1303.0" stroke="#21FF06"/>
<use href="#a" x="482.1" y="1303.5" stroke="#21FF06"/>
<use href="#a" x="489.4" y="1303.5" stroke="#21FF06"/>
<use href="#a" x="527.1" y="1303.5" stroke="#21FF06"/>
<use href="#a" x="609.5" y="1303.5" stroke="#21FF06"/>
<use href="#a" x="628.6" y="1303.2" stroke="#21FF06"/>
<use href="#a" x="848.8" y="1303.0" stroke="#21FF06"/>
<use href="#a" x="942.0" y="1296.8" stroke="#21FF06"/>
<use href="#a" x="1053.5" y="1303.1" stroke="#21FF06"/>
<use href="#a" x="1147.8" y="1303.1" stroke="#21FF06"/>
<use href="#a" x="1147.4" y="1270.0" stroke="#21FF06"/>
<use href="#a" x="1101.0" y="1298.0" stroke="#21FF06"/>
<use href="#a" x="1114.5" y="1303.1" stroke="#21FF06"/>
<use href="#a" x="1128.9" y="1303.1" stroke="#21FF06"/>
<use href="#a" x="1203.6" y="1303.1" stroke="#21FF06"/>
<use href="#a" x="1215.0" y="1301.5" stroke="#21FF06"/>
<use href="#a" x="1265.7" y="1303.1" stroke="#21FF06"/>
<use href="#a" x="1312.0" y="1303.2" stroke="#21FF06"/>
<use href="#a" x="1315.0" y="1303.2" stroke="#21FF06"/>
<use href="#a" x="1351.0" y="1296.0" stroke="#21FF06"/>
<use href="#a" x="1600.8" y="1298.6" stroke="#21FF06"/>
<use href="#a" x="1253.1" y="805.8" stroke="#21FF06"/>
<use href="#a" x="1246.0" y="1077.9" stroke="#21FF06"/>
<use href="#a" x="1948.2" y="1304.0" stroke="#21FF06"/>
<use href="#a" x="2007.2" y="1304.0" stroke="#21FF06"/>
<use href="#a" x="2077.2" y="1303.5" stroke="#21FF06"/>
<use href="#a" x="2118.4" y="1303.0" stroke="#21FF06"/>
<use href="#a" x="2121.2" y="1303.0" stroke="#21FF06"/>
<use href="#a" x="390.9" y="222.5" stroke="#FB0207"/>
<use href="#a" x="568.6" y="102.3" stroke="#FB0207"/>
<use href="#a" x="435.9" y="1262.1" stroke="#FB0207"/>
<use href="#a" x="1260.4" y="290.1" stroke="#FB0207"/>
<use href="#a" x="1262.9" y="909.8" stroke="#FB0207"/>
<use href="#a" x="575.5" y="1303.3" stroke="#0000FF"/>
<use href="#a" x="353.0" y="327.1" stroke="#0000FF"/>
<use href="#a" x="609.1" y="493.2" stroke="#0000FF"/>
<use href="#a" x="398.9" y="887.1" stroke="#0000FF"/>
<use href="#a" x="498.2" y="1139.9" stroke="#0000FF"/>
<use href="#a" x="577.0" y="1225.8" stroke="#0000FF"/>
<use href="#a" x="564.9" y="1243.0" stroke="#0000FF"/>
<use href="#a" x="576.6" y="1254.3" stroke="#0000FF"/>
<use href="#a" x="576.6" y="1277.2" stroke="#0000FF"/>
<use href="#a" x="589.7" y="1276.8" stroke="#0000FF"/>
<use href="#a" x="589.8" y="1290.4" stroke="#0000FF"/>
<use href="#a" x="615.8" y="1295.9" stroke="#0000FF"/>
<use href="#a" x="622.0" y="1303.0" stroke="#0000FF"/>
<use href="#a" x="661.2" y="1297.6" stroke="#0000FF"/>
<use href="#a" x="538.3" y="1297.4" stroke="#0000FF"/>
<use href="#a" x="538.0" y="1302.4" stroke="#0000FF"/>
<use href="#a" x="386.7" y="1302.3" stroke="#0000FF"/>
<use href="#a" x="472.4" y="1302.6" stroke="#0000FF"/>
<use href="#a" x="494.0" y="1302.2" stroke="#0000FF"/>
<use href="#a" x="836.4" y="1281.4" stroke="#0000FF"/>
<use href="#a" x="1128.3" y="1231.8" stroke="#0000FF"/>
<use href="#a" x="1182.5" y="1228.9" stroke="#0000FF"/>
<use href="#a" x="1117.2" y="1285.1" stroke="#0000FF"/>
<use href="#a" x="1128.5" y="1290.1" stroke="#0000FF"/>
<use href="#a" x="1076.0" y="1301.8" stroke="#0000FF"/>
<use href="#a" x="1087.4" y="1300.1" stroke="#0000FF"/>
<use href="#a" x="1195.6" y="1296.0" stroke="#0000FF"/>
<use href="#a" x="1253.3" y="1284.4" stroke="#0000FF"/>
<use href="#a" x="1240.3" y="1296.4" stroke="#0000FF"/>
<use href="#a" x="1281.6" y="1302.0" stroke="#0000FF"/>
<use href="#a" x="1312.9" y="1303.1" stroke="#0000FF"/>
<use href="#a" x="1367.6" y="1288.0" stroke="#0000FF"/>
<use href="#a" x="1215.2" y="1198.4" stroke="#0000FF"/>
<use href="#a" x="1198.8" y="86.5" stroke="#0000FF"/>
<use href="#a" x="1185.3" y="207.3" stroke="#0000FF"/>
<use href="#a" x="1950.3" y="1274.8" stroke="#0000FF"/>
<use href="#a" x="1961.8" y="1279.2" stroke="#0000FF"/>
<use href="#a" x="1985.1" y="1300.6" stroke="#0000FF"/>
<use href="#a" x="2086.3" y="1271.6" stroke="#0000FF"/>
<use href="#a" x="2086.3" y="1303.0" stroke="#0000FF"/>
<use href="#a" x="2086.0" y="895.4" stroke="#0000FF"/>
<use href="#a" x="575.5" y="1303.3" stroke="#21FF06"/>
</g>
<rect x="182.00" y="24.00" width="2039.40" height="1338.70" fill="none" stroke="#151515" stroke-width="2.4"/>
<g stroke="#232323" stroke-width="4.45">
<line x1="169.34" x2="180.8" y1="1303.30" y2="1303.30"/>
<line x1="169.34" x2="180.8" y1="998.30" y2="998.30"/>
<line x1="169.34" x2="180.8" y1="693.30" y2="693.30"/>
<line x1="169.34" x2="180.8" y1="388.30" y2="388.30"/>
<line x1="169.34" x2="180.8" y1="83.30" y2="83.30"/>
<line x1="313.10" x2="313.10" y1="1363.9" y2="1375.36"/>
<line x1="905.63" x2="905.63" y1="1363.9" y2="1375.36"/>
<line x1="1498.16" x2="1498.16" y1="1363.9" y2="1375.36"/>
<line x1="2090.69" x2="2090.69" y1="1363.9" y2="1375.36"/>
</g>
<text class="t" x="159.5" y="1316.7" text-anchor="end">0.00</text>
<text class="t" x="159.5" y="1011.7" text-anchor="end">0.25</text>
<text class="t" x="159.5" y="706.7" text-anchor="end">0.50</text>
<text class="t" x="159.5" y="401.7" text-anchor="end">0.75</text>
<text class="t" x="159.5" y="96.7" text-anchor="end">1.00</text>
<text class="t" x="313.1" y="1412.1" text-anchor="middle">34,500,000</text>
<text class="t" x="905.6" y="1412.1" text-anchor="middle">34,600,000</text>
<text class="t" x="1498.2" y="1412.1" text-anchor="middle">34,700,000</text>
<text class="t" x="2090.7" y="1412.1" text-anchor="middle">34,800,000</text>
<text class="T" style="font-size:45.88px" x="1202.0" y="1467.2" text-anchor="middle">Genomic location of TBC1D3B (GRCh37 chr17:34493325-34806569, gray = RefSeq exons)</text>
<text class="T" transform="translate(55,694) rotate(-90)" text-anchor="middle">CAPICE score (pathogenicity estimate)</text>
<text class="T" x="2293.3" y="413.1">Source</text>
<g class="p" stroke="#000"><use href="#d" x="2329.5" y="466.2"/><use href="#s" x="2329.5" y="538.3"/><use href="#a" x="2329.5" y="610.2"/></g>
<text class="l" x="2373.6" y="480.3">CAPICE Testing</text>
<text class="l" x="2373.6" y="552.4">CAPICE Training</text>
<text class="l" x="2373.6" y="624.2">VKGL Oct. 2019</text>
<text class="T" x="2293.3" y="773.4">Classification</text>
<circle cx="2329.5" cy="827.4" r="9.6" fill="#21FF06"/>
<circle cx="2329.5" cy="899.5" r="9.6" fill="#FB0207"/>
<circle cx="2329.5" cy="971.5" r="9.6" fill="#0000FF"/>
<text class="l" x="2373.8" y="840.6">LB/B</text>
<text class="l" x="2373.8" y="912.7">LP/P</text>
<text class="l" x="2373.8" y="984.6">VUS</text>
</svg></body></html>
